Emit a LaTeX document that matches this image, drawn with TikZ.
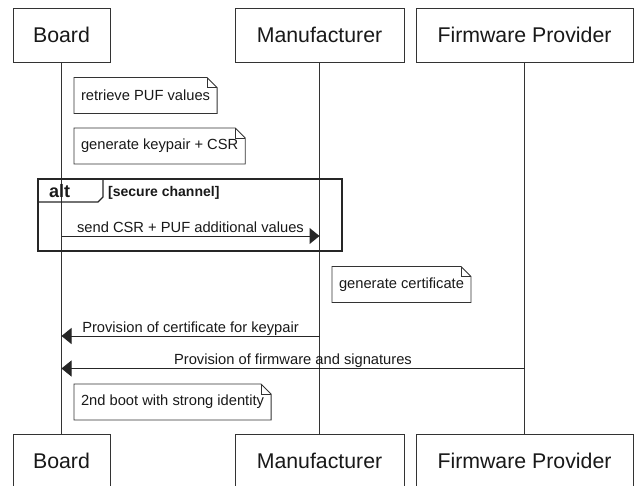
\documentclass[tikz,border=0pt]{standalone}
\usepackage{fontspec}
\setmainfont{Liberation Sans}
\usetikzlibrary{arrows.meta}

\tikzset{
  actor/.style={draw=black!80, line width=0.9pt, fill=white, inner sep=0pt, outer sep=0pt,
    minimum height=54pt, font=\fontsize{21.3}{25}\selectfont, text=black!90},
  lifeline/.style={draw=black!80, line width=0.8pt},
  notebox/.style={inner xsep=7pt, inner ysep=0pt, outer sep=0pt, minimum height=36pt,
    font=\fontsize{14.7}{17}\selectfont, text=black!90, anchor=west},
  noteline/.style={draw=black!80, line width=0.9pt},
  msg/.style={draw=black!85, line width=1pt, -{Triangle[length=10pt,width=16pt]}},
  msglabel/.style={font=\fontsize{14.7}{17}\selectfont, text=black!90, anchor=base, inner sep=0pt},
  altbox/.style={draw=black!85, line width=1.8pt, inner sep=0pt, outer sep=0pt},
}

% outline of a note with a folded top-right corner
\newcommand\dogear[1]{%
  \draw[noteline] (#1.south west) -- (#1.north west) -- ([xshift=-10pt]#1.north east)
    -- ([yshift=-10pt]#1.north east) -- (#1.south east) -- cycle;
  \draw[noteline] ([xshift=-10pt]#1.north east) |- ([yshift=-10pt]#1.north east);
}

\begin{document}
\begin{tikzpicture}[x=1pt, y=-1pt]
  \useasboundingbox (0,0) rectangle (637,485);

  % participants, top and bottom
  \node[actor, minimum width=97pt]  (boardT) at (61.5,35)  {Board};
  \node[actor, minimum width=169pt] (manT)   at (319.5,35) {Manufacturer};
  \node[actor, minimum width=217pt] (fwT)    at (524.5,35) {Firmware Provider};
  \node[actor, minimum width=97pt]  (boardB) at (61.5,461)  {Board};
  \node[actor, minimum width=169pt] (manB)   at (319.5,461) {Manufacturer};
  \node[actor, minimum width=217pt] (fwB)    at (524.5,461) {Firmware Provider};

  % lifelines
  \draw[lifeline] (boardT.south) -- (boardB.north);
  \draw[lifeline] (manT.south) -- (manB.north);
  \draw[lifeline] (fwT.south) -- (fwB.north);

  % notes on the board
  \node[notebox] (n1) at (74,95.5) {retrieve PUF values};
  \dogear{n1}
  \node[notebox] (n2) at (74,146) {generate keypair + CSR};
  \dogear{n2}

  % alt fragment
  \node[altbox, minimum width=304pt, minimum height=72pt, anchor=north west] (altframe) at (38,179) {};
  \draw[draw=black!85, line width=1.4pt] ([yshift=-23pt]altframe.north west) -- ++(60pt,0)
    -- ++(5pt,5pt) -- ([xshift=65pt]altframe.north west);
  \node[anchor=base west, inner sep=0pt, font=\bfseries\fontsize{18}{20}\selectfont, text=black!90]
    (altlbl) at (49,197) {alt};
  \node[anchor=base west, inner sep=0pt, font=\bfseries\fontsize{14}{16}\selectfont, text=black!90]
    (altcond) at (108,196) {[secure channel]};

  % messages
  \coordinate (b1) at (61.5,236);
  \coordinate (m1) at (319.5,236);
  \draw[msg] (b1) -- (m1) node[msglabel, midway, yshift=4pt] (l1) {send CSR + PUF additional values};

  \node[notebox] (n3) at (332,284.5) {generate certificate};
  \dogear{n3}

  \coordinate (m2) at (319.5,336);
  \coordinate (b2) at (61.5,336);
  \draw[msg] (m2) -- (b2) node[msglabel, midway, yshift=4pt] (l2) {Provision of certificate for keypair};

  \coordinate (f3) at (524.5,368.5);
  \coordinate (b3) at (61.5,368.5);
  \draw[msg] (f3) -- (b3) node[msglabel, midway, yshift=4pt] (l3) {Provision of firmware and signatures};

  \node[notebox] (n4) at (74,402) {2nd boot with strong identity};
  \dogear{n4}
\end{tikzpicture}
\end{document}
